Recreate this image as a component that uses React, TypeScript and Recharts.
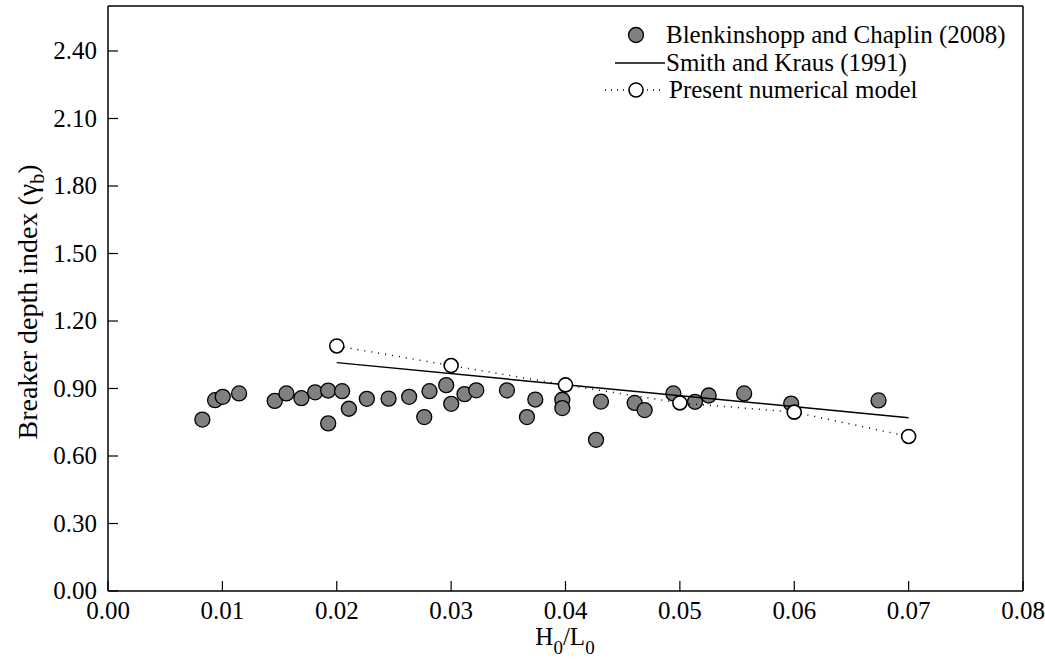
import { ComposedChart, Scatter, XAxis, YAxis, Legend } from 'recharts';

// Blenkinshopp and Chaplin (2008) measurements
const measuredX = [
  0.00825, 0.00936, 0.01003, 0.01146, 0.01458, 0.0156, 0.01691, 0.01811, 0.01925, 0.01925,
  0.02047, 0.02106, 0.02263, 0.02453, 0.02633, 0.02765, 0.02811, 0.02957, 0.03001, 0.03117,
  0.0322, 0.03488, 0.03663, 0.03736, 0.03972, 0.03972, 0.04267, 0.0431, 0.04605, 0.04692,
  0.04943, 0.05133, 0.05252, 0.05562, 0.05973, 0.06737,
];
const measuredY = [
  0.762, 0.848, 0.863, 0.878, 0.845, 0.878, 0.857, 0.883, 0.891, 0.745,
  0.888, 0.81, 0.854, 0.855, 0.863, 0.773, 0.888, 0.915, 0.832, 0.875,
  0.892, 0.892, 0.773, 0.851, 0.85, 0.813, 0.672, 0.842, 0.836, 0.804,
  0.878, 0.841, 0.869, 0.878, 0.833, 0.847,
];

// Smith and Kraus (1991)
const smithX = [0.02, 0.07];
const smithY = [1.015, 0.77];

// Present numerical model
const modelX = [0.02, 0.03, 0.04, 0.05, 0.06, 0.07];
const modelY = [1.089, 1.002, 0.916, 0.836, 0.795, 0.687];

const xTicks = [0, 0.01, 0.02, 0.03, 0.04, 0.05, 0.06, 0.07, 0.08];
const yTicks = [0, 0.3, 0.6, 0.9, 1.2, 1.5, 1.8, 2.1, 2.4];

const zip = (xs: number[], ys: number[]) => xs.map((x, i) => ({ x, y: ys[i] }));
const measured = zip(measuredX, measuredY);
const smith = zip(smithX, smithY);
const model = zip(modelX, modelY);

const FONT = '"Liberation Serif", "Times New Roman", serif';

const BottomTick = ({ x, y, payload }: any) => (
  <g>
    <line x1={x} y1={y} x2={x} y2={y - 10} stroke="#000" strokeWidth={1.2} />
    <text x={x} y={y + 28} textAnchor="middle" fontSize={25} fontFamily={FONT} fill="#000">
      {payload.value.toFixed(2)}
    </text>
  </g>
);
const LeftTick = ({ x, y, payload }: any) => (
  <g>
    <line x1={x} y1={y} x2={x + 10} y2={y} stroke="#000" strokeWidth={1.2} />
    <text x={x - 11} y={y + 8} textAnchor="end" fontSize={25} fontFamily={FONT} fill="#000">
      {payload.value.toFixed(2)}
    </text>
  </g>
);
const TopTick = ({ x, y }: any) => <line x1={x} y1={y} x2={x} y2={y + 10} stroke="#000" strokeWidth={1.2} />;
const RightTick = ({ x, y }: any) => <line x1={x} y1={y} x2={x - 10} y2={y} stroke="#000" strokeWidth={1.2} />;

const FilledDot = ({ cx, cy }: any) => <circle cx={cx} cy={cy} r={7.5} fill="#808080" stroke="#000" strokeWidth={1.3} />;
const OpenDot = ({ cx, cy }: any) => <circle cx={cx} cy={cy} r={7} fill="#fff" stroke="#000" strokeWidth={1.6} />;
const NoDot = () => <g />;

const LegendBox = () => (
  <svg width={440} height={110} style={{ overflow: 'visible' }}>
    <g fontFamily={FONT} fontSize={25} fill="#000">
      <circle cx={46} cy={35} r={7.5} fill="#808080" stroke="#000" strokeWidth={1.3} />
      <text x={76} y={43}>Blenkinshopp and Chaplin (2008)</text>
      <line x1={25} y1={63} x2={75} y2={63} stroke="#000" strokeWidth={1.5} />
      <text x={76} y={71}>Smith and Kraus (1991)</text>
      <line x1={15} y1={90} x2={75} y2={90} stroke="#000" strokeWidth={1.5} strokeDasharray="1 5" />
      <circle cx={46} cy={90} r={7} fill="#fff" stroke="#000" strokeWidth={1.6} />
      <text x={79} y={98}>Present numerical model</text>
    </g>
  </svg>
);

export default function App() {
  return (
    <div style={{ position: 'absolute', left: 0, top: 0 }}>
      <ComposedChart width={1045} height={660} margin={{ top: 5, right: 21, bottom: 0, left: 0 }}>
        <XAxis
          xAxisId="b"
          type="number"
          dataKey="x"
          domain={[0, 0.08]}
          ticks={xTicks}
          tickSize={0}
          tickMargin={0}
          tick={<BottomTick />}
          height={69}
          axisLine={{ stroke: '#000', strokeWidth: 1.5 }}
          label={{
            content: () => (
              <text x={565} y={645} textAnchor="middle" fontSize={25} fontFamily={FONT} fill="#000">
                H<tspan dy={9} fontSize={19}>0</tspan>
                <tspan dy={-9}>/L</tspan>
                <tspan dy={9} fontSize={19}>0</tspan>
              </text>
            ),
          }}
        />
        <XAxis
          xAxisId="t"
          orientation="top"
          type="number"
          dataKey="x"
          domain={[0, 0.08]}
          ticks={xTicks}
          tickSize={0}
          tickMargin={0}
          tick={<TopTick />}
          height={1}
          axisLine={{ stroke: '#000', strokeWidth: 1.5 }}
        />
        <YAxis
          yAxisId="l"
          type="number"
          dataKey="y"
          domain={[0, 2.6]}
          ticks={yTicks}
          tickSize={0}
          tickMargin={0}
          tick={<LeftTick />}
          width={108}
          axisLine={{ stroke: '#000', strokeWidth: 1.5 }}
          label={{
            content: () => (
              <text
                x={0}
                y={0}
                transform="translate(37 302) rotate(-90)"
                textAnchor="middle"
                fontSize={28}
                fontFamily={FONT}
                fill="#000"
              >
                Breaker depth index (γ<tspan dy={7} fontSize={20}>b</tspan>
                <tspan dy={-7}>)</tspan>
              </text>
            ),
          }}
        />
        <YAxis
          yAxisId="r"
          orientation="right"
          type="number"
          dataKey="y"
          domain={[0, 2.6]}
          ticks={yTicks}
          tickSize={0}
          tickMargin={0}
          tick={<RightTick />}
          width={1}
          axisLine={{ stroke: '#000', strokeWidth: 1.5 }}
        />
        <Legend
          layout="vertical"
          align="center"
          verticalAlign="middle"
          content={() => <LegendBox />}
          wrapperStyle={{ top: 0, left: 590, width: 440, height: 110 }}
        />
        <Scatter
          name="Blenkinshopp and Chaplin (2008)"
          data={measured}
          xAxisId="b"
          yAxisId="l"
          shape={<FilledDot />}
          isAnimationActive={false}
        />
        <Scatter
          name="Smith and Kraus (1991)"
          data={smith}
          xAxisId="b"
          yAxisId="l"
          line={{ stroke: '#000', strokeWidth: 1.5 }}
          shape={<NoDot />}
          isAnimationActive={false}
        />
        <Scatter
          name="Present numerical model"
          data={model}
          xAxisId="b"
          yAxisId="l"
          line={{ stroke: '#000', strokeWidth: 1.5, strokeDasharray: '1 6' }}
          shape={<OpenDot />}
          isAnimationActive={false}
        />
      </ComposedChart>
    </div>
  );
}
